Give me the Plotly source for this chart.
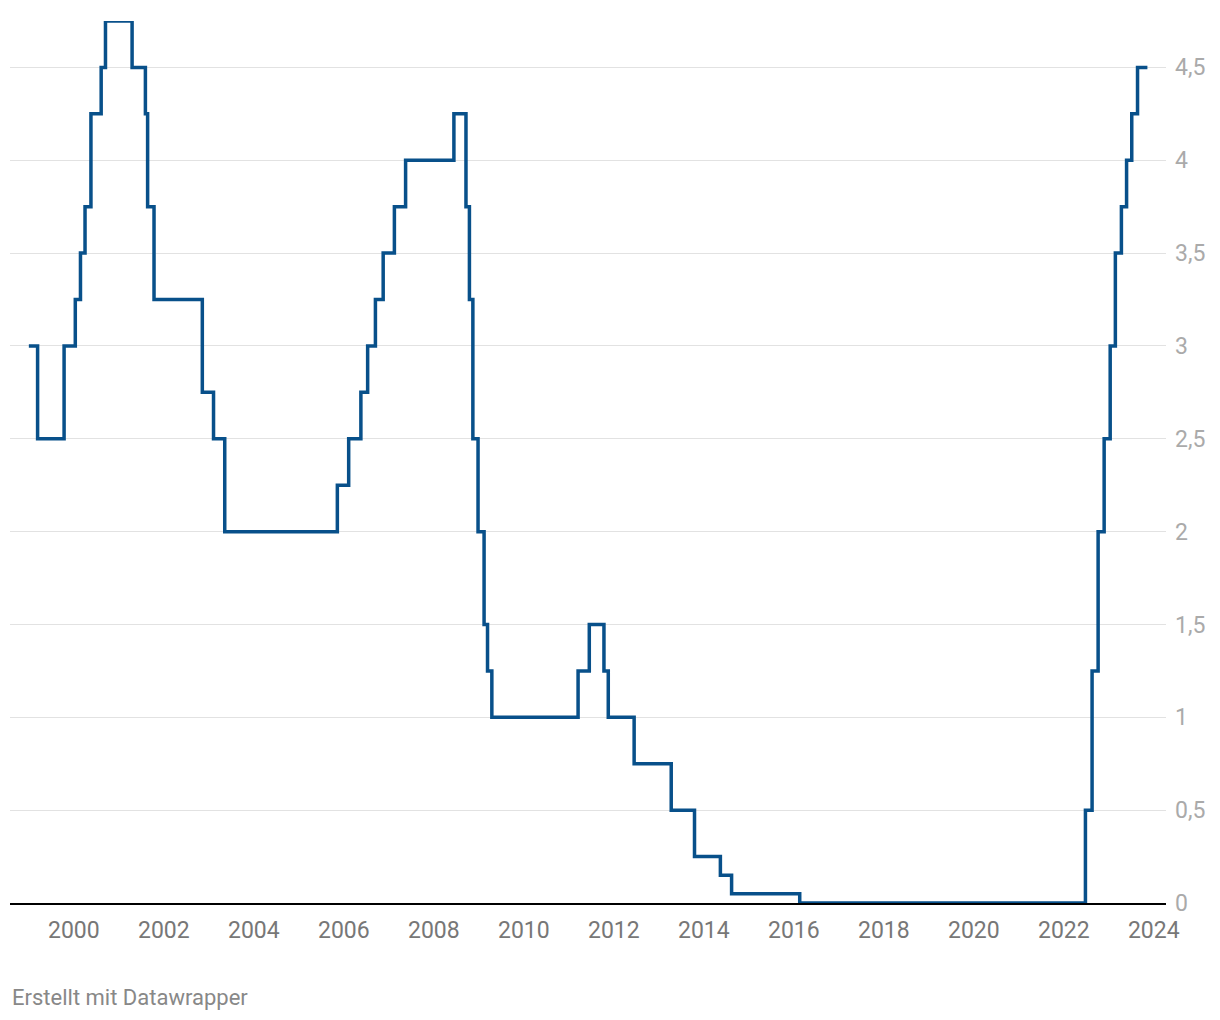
import plotly.graph_objects as go

# ECB main refinancing rate as plotted (step dates, rate in %)
dates = [
    "1999-01-01", "1999-03-13", "1999-10-14", "2000-01-13", "2000-02-24",
    "2000-04-01", "2000-05-19", "2000-08-10", "2000-09-14", "2001-04-18",
    "2001-08-04", "2001-08-22", "2001-10-13", "2002-11-09", "2003-02-08",
    "2003-05-10", "2005-11-09", "2006-02-09", "2006-05-19", "2006-07-13",
    "2006-09-14", "2006-11-16", "2007-02-15", "2007-05-17", "2008-06-12",
    "2008-09-18", "2008-10-16", "2008-11-13", "2008-12-25", "2009-02-12",
    "2009-03-12", "2009-04-16", "2011-03-17", "2011-06-16", "2011-10-13",
    "2011-11-17", "2012-06-14", "2013-04-11", "2013-10-17", "2014-05-15",
    "2014-08-14", "2016-02-18", "2022-06-25", "2022-08-18", "2022-10-06",
    "2022-11-24", "2023-01-12", "2023-02-23", "2023-04-13", "2023-05-25",
    "2023-07-06", "2023-08-22", "2023-11-10",
]
rates = [
    3.00, 2.50, 3.00, 3.25, 3.50,
    3.75, 4.25, 4.50, 4.75, 4.50,
    4.25, 3.75, 3.25, 2.75, 2.50,
    2.00, 2.25, 2.50, 2.75, 3.00,
    3.25, 3.50, 3.75, 4.00, 4.25,
    3.75, 3.25, 2.50, 2.00, 1.50,
    1.25, 1.00, 1.25, 1.50, 1.25,
    1.00, 0.75, 0.50, 0.25, 0.15,
    0.05, 0.00, 0.50, 1.25, 2.00,
    2.50, 3.00, 3.50, 3.75, 4.00,
    4.25, 4.50, 4.50,
]

x_tick_vals = [f"{y}-01-01" for y in range(2000, 2025, 2)]
x_tick_text = [str(y) for y in range(2000, 2025, 2)]
y_tick_vals = [0, 0.5, 1, 1.5, 2, 2.5, 3, 3.5, 4, 4.5]
y_tick_text = ["0", "0,5", "1", "1,5", "2", "2,5", "3", "3,5", "4", "4,5"]

fig = go.Figure()
fig.add_trace(go.Scatter(
    x=dates, y=rates, mode="lines", line_shape="hv",
    line=dict(color="#08508a", width=3.5), hoverinfo="skip",
))

fig.update_layout(
    width=1220, height=1020,
    margin=dict(l=10, r=54, t=21, b=117),
    paper_bgcolor="white", plot_bgcolor="white",
    font=dict(family="Roboto", size=23, color="#777777"),
    showlegend=False,
    xaxis=dict(
        type="date", range=["1998-08-01", "2024-04-09"],
        tickvals=x_tick_vals, ticktext=x_tick_text,
        showgrid=False, zeroline=False,
        showline=True, linecolor="#000000", linewidth=2,
        ticks="", ticklabelstandoff=5,
        tickfont=dict(size=23, color="#777777"),
    ),
    yaxis=dict(
        range=[0, 4.75], side="right",
        tickvals=y_tick_vals, ticktext=y_tick_text,
        showgrid=True, gridcolor="#e2e2e2", gridwidth=1,
        zeroline=False, showline=False, ticks="",
        ticklabelstandoff=8,
        tickfont=dict(size=23, color="#aaaaaa"),
    ),
    annotations=[dict(
        text="Erstellt mit Datawrapper", xref="paper", yref="paper",
        x=0, y=-(997-903)/882, xanchor="left", yanchor="middle",
        showarrow=False, font=dict(size=22, color="#888888"),
    )],
)

fig.write_html(
    "out.html",
    config={"displayModeBar": False},
    post_script="document.body.style.margin='0';document.body.style.overflow='hidden';",
)
